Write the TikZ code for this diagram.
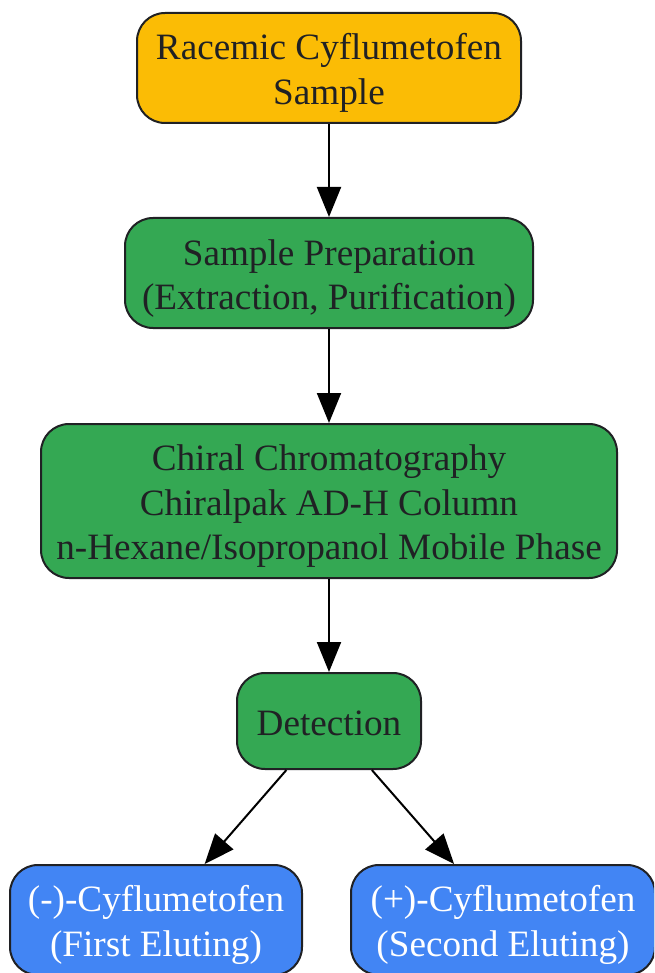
\documentclass[tikz,border=0pt]{standalone}
\usepackage{fontspec}
\setmainfont{Liberation Serif}
\usetikzlibrary{arrows.meta}
\definecolor{cyellow}{HTML}{FBBC05}
\definecolor{cgreen}{HTML}{34A853}
\definecolor{cblue}{HTML}{4285F4}
\definecolor{ctext}{HTML}{202124}
\definecolor{cborder}{HTML}{202124}
\newcommand{\lst}{\rule[-8pt]{0pt}{44pt}}
\tikzset{
  box/.style={draw=cborder, line width=2pt, rounded corners=28pt, align=center,
    inner sep=0pt, text=ctext, font=\fontsize{37.2}{44}\selectfont},
  ybox/.style={box, fill=cyellow},
  gbox/.style={box, fill=cgreen},
  bbox/.style={box, fill=cblue, text=white},
  conn/.style={line width=2pt, -{Triangle[length=30pt,width=24pt]}}
}
\begin{document}
\begin{tikzpicture}[x=1pt,y=-1pt]
\useasboundingbox (0,0) rectangle (654,973);
\clip (0,0) rectangle (654,973);
\node[ybox, minimum width=384pt, minimum height=110pt] (race) at (329,68) {\lst Racemic Cyflumetofen\\\lst Sample};
\node[gbox, minimum width=408pt, minimum height=110pt] (prep) at (329,273) {\lst Sample Preparation\\\lst (Extraction, Purification)};
\node[gbox, minimum width=576pt, minimum height=154pt] (chrom) at (329,501) {\lst Chiral Chromatography\\\lst Chiralpak AD-H Column\\\lst n-Hexane/Isopropanol Mobile Phase};
\node[gbox, minimum width=184pt, minimum height=96pt] (det) at (329,721) {\lst Detection};
\node[bbox, minimum width=292pt, minimum height=110pt] (minus) at (156,920) {\lst (-)-Cyflumetofen\\\lst (First Eluting)};
\node[bbox, minimum width=304pt, minimum height=110pt] (plus) at (503,920) {\lst (+)-Cyflumetofen\\\lst (Second Eluting)};
\draw[conn] (race) -- (prep);
\draw[conn] (prep) -- (chrom);
\draw[conn] (chrom) -- (det);
\draw[conn] (det) -- (minus);
\draw[conn] (det) -- (plus);
\end{tikzpicture}
\end{document}
